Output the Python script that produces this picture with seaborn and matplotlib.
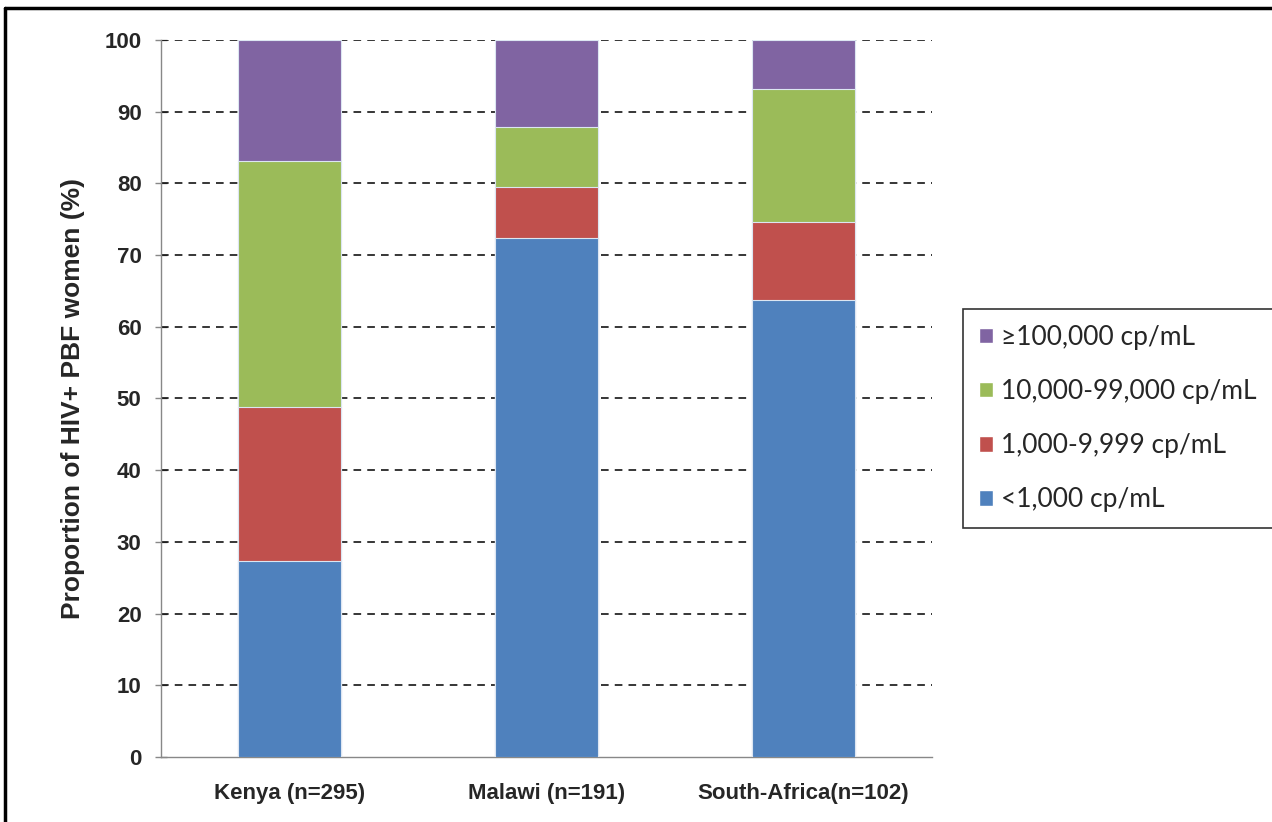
import matplotlib
matplotlib.use("Agg")
import matplotlib.pyplot as plt
import seaborn as sns
import pandas as pd
import numpy as np
from matplotlib.patches import Patch
from matplotlib.lines import Line2D

categories = ["Kenya (n=295)", "Malawi (n=191)", "South-Africa(n=102)"]
below_1000 = [27.3, 72.4, 63.7]
r1000_9999 = [21.5, 7.1, 10.9]
r10000_99000 = [34.3, 8.4, 18.6]
above_100000 = [16.9, 12.1, 6.8]
series_labels = ["<1,000 cp/mL", "1,000-9,999 cp/mL", "10,000-99,000 cp/mL", "\u2265100,000 cp/mL"]
series_colors = ["#4F81BD", "#C0504D", "#9BBB59", "#8064A2"]
yticks = [0, 10, 20, 30, 40, 50, 60, 70, 80, 90, 100]

sns.set_theme(style="white")
plt.rcParams['font.family'] = ['Liberation Sans', 'DejaVu Sans']

fig = plt.figure(figsize=(12.72, 8.22), dpi=100)
ax = fig.add_axes([161/1272, 1-757/822, (932-161)/1272, (757-40)/822])

series = [below_1000, r1000_9999, r10000_99000, above_100000]
cum = np.cumsum(np.array(series), axis=0)

# draw from top (largest cumulative) down so lower segments overlay
for i in range(3, -1, -1):
    df = pd.DataFrame({"country": categories, "value": cum[i]})
    sns.barplot(data=df, x="country", y="value", order=categories, color=series_colors[i],
                width=0.4, ax=ax, errorbar=None, saturation=1,
                edgecolor="#dce6f2", linewidth=0.8, zorder=3)

ax.set_xlim(-0.5, 2.5)
ax.set_ylim(0, 100)
ax.set_yticks(yticks)
ax.set_yticklabels([str(t) for t in yticks], fontsize=16, fontweight="bold")
ax.set_xticks(range(len(categories)))
ax.set_xticklabels(categories, fontsize=16, fontweight="bold")
ax.set_xticks([-0.5, 0.5, 1.5, 2.5], minor=True)
ax.tick_params(axis="x", which="major", length=0, pad=19)
ax.tick_params(axis="x", which="minor", length=7, color="#888888", width=1, direction="out")
ax.tick_params(axis="y", length=8, color="#888888", width=1, direction="inout", pad=10, left=True)
ax.set_xlabel("")
ax.set_ylabel("Proportion of HIV+ PBF women (%)", fontsize=19, fontweight="bold", labelpad=14)

for y in yticks[1:]:
    ax.axhline(y, color="black", linestyle=(0, (5, 4)), linewidth=1.1, zorder=1)

for s in ["top", "right"]:
    ax.spines[s].set_visible(False)
for s in ["left", "bottom"]:
    ax.spines[s].set_color("#888888")
    ax.spines[s].set_linewidth(1)

handles = [Patch(facecolor=series_colors[i], edgecolor="white", label=series_labels[i]) for i in range(3, -1, -1)]
leg = fig.legend(handles=handles, loc="upper left", bbox_to_anchor=(963/1272, 1-309/822),
                 borderaxespad=0, frameon=True, fancybox=False, edgecolor="black",
                 handlelength=0.55, handleheight=0.55, handletextpad=0.3,
                 labelspacing=1.1, borderpad=0.6,
                 prop={"family": ["Lato", "DejaVu Sans"], "size": 19})
leg.get_frame().set_linewidth(1.2)

# outer frame lines
fig.add_artist(Line2D([5/1272, 5/1272], [0, 1-8/822], color="black", linewidth=2.5, transform=fig.transFigure))
fig.add_artist(Line2D([5/1272, 1], [1-8/822, 1-8/822], color="black", linewidth=2.5, transform=fig.transFigure))

fig.savefig("out.png", dpi=100, facecolor="white")
